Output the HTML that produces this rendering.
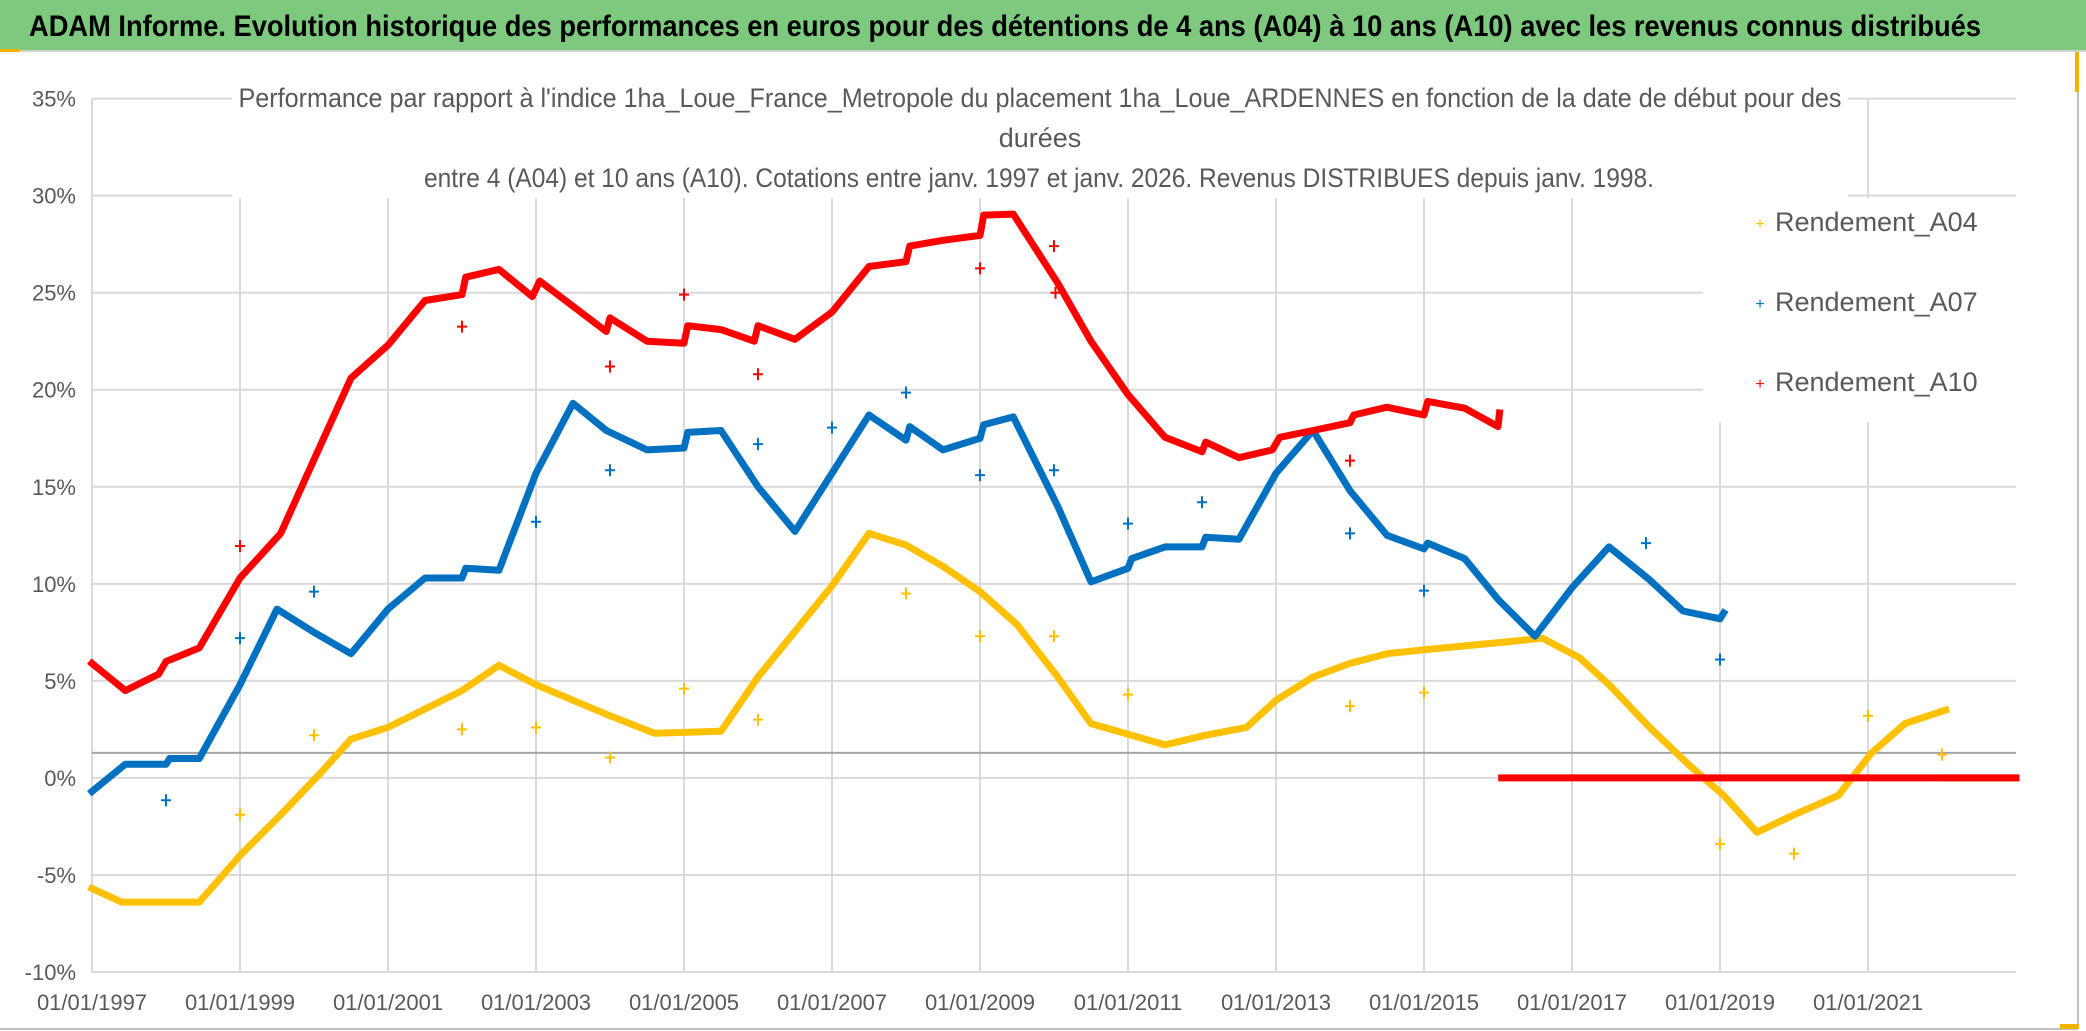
<!DOCTYPE html>
<html><head><meta charset="utf-8">
<style>
html,body{margin:0;padding:0;background:#fff;}
body{width:2086px;height:1031px;overflow:hidden;}
svg{display:block;}
</style></head>
<body>
<svg id="chart" width="2086" height="1031" xmlns="http://www.w3.org/2000/svg">
  <rect x="0" y="0" width="2086" height="1031" fill="#fff"/>
  <rect x="0" y="0" width="2086" height="50" fill="#7dc97d"/>
  <line x1="0" y1="51" x2="2086" y2="51" stroke="#d0d0d0" stroke-width="2"/>
  <rect x="0" y="49" width="20" height="3" fill="#f0b400"/>
  <text x="1005" y="36" text-anchor="middle" font-family="'Liberation Sans Narrow','Liberation Sans',sans-serif" font-weight="bold" font-size="30" fill="#000" textLength="1952" lengthAdjust="spacingAndGlyphs">ADAM Informe. Evolution historique des performances en euros pour des détentions de 4 ans (A04) à 10 ans (A10) avec les revenus connus distribués</text>
  <line x1="2078" y1="52" x2="2078" y2="1029" stroke="#bfbfbf" stroke-width="2"/>
  <line x1="0" y1="1029" x2="2078" y2="1029" stroke="#bfbfbf" stroke-width="2"/>
  <rect x="2075" y="52" width="4" height="40" fill="#f0b400"/>
  <rect x="2060" y="1024" width="19" height="5" fill="#f0b400"/>
  <g id="grid"></g>
  <g id="series"></g>
  <rect x="232" y="84" width="1616" height="114" fill="#fff"/>
  <g font-family="'Liberation Sans Narrow','Liberation Sans',sans-serif" font-size="27" fill="#595959" text-anchor="middle">
    <text x="1040" y="107" textLength="1603" lengthAdjust="spacingAndGlyphs">Performance par rapport à l'indice 1ha_Loue_France_Metropole  du placement 1ha_Loue_ARDENNES en fonction de la date de début pour des</text>
    <text x="1040" y="147">durées</text>
    <text x="1039" y="187" textLength="1230" lengthAdjust="spacingAndGlyphs">entre 4 (A04) et 10 ans (A10). Cotations entre janv. 1997 et janv. 2026. Revenus DISTRIBUES depuis janv. 1998.</text>
  </g>
  <rect x="1703" y="198" width="314" height="224" fill="#fff"/>
  <g font-family="'Liberation Sans Narrow','Liberation Sans',sans-serif" font-size="27" fill="#595959">
    <g><text x="1760" y="229" fill="#ffc000" font-size="16" text-anchor="middle">+</text><text x="1775" y="231">Rendement_A04</text></g>
    <g><text x="1760" y="309" fill="#0070c0" font-size="16" text-anchor="middle">+</text><text x="1775" y="311">Rendement_A07</text></g>
    <g><text x="1760" y="389" fill="#ff0000" font-size="16" text-anchor="middle">+</text><text x="1775" y="391">Rendement_A10</text></g>
  </g>
  <g id="axes" font-family="'Liberation Sans Narrow','Liberation Sans',sans-serif" font-size="22" fill="#595959"></g>
</svg>
<script>
const yTicks=[35,30,25,20,15,10,5,0,-5,-10];
const yTickLabels=["35%","30%","25%","20%","15%","10%","5%","0%","-5%","-10%"];
const xTicks=[1997,1999,2001,2003,2005,2007,2009,2011,2013,2015,2017,2019,2021];
const xTickLabels=["01/01/1997","01/01/1999","01/01/2001","01/01/2003","01/01/2005","01/01/2007","01/01/2009","01/01/2011","01/01/2013","01/01/2015","01/01/2017","01/01/2019","01/01/2021"];

const a04Dates=[1997.0,1997.4,1998.45,1999.0,1999.55,2000.1,2000.5,2001.0,2002.0,2002.5,2003.0,2004.0,2004.6,2005.5,2006.0,2007.0,2007.5,2008.0,2008.5,2009.0,2009.5,2010.05,2010.5,2011.05,2011.5,2012.05,2012.6,2013.0,2013.5,2014.0,2014.5,2015.0,2015.55,2016.1,2016.6,2017.1,2017.5,2018.05,2018.6,2019.05,2019.5,2020.0,2020.6,2021.05,2021.5,2022.05];
const a04Values=[-5.7,-6.4,-6.4,-4.0,-1.9,0.3,2.0,2.6,4.5,5.8,4.8,3.2,2.3,2.4,5.2,9.9,12.6,12.0,10.9,9.6,7.9,5.2,2.8,2.2,1.7,2.2,2.6,4.0,5.2,5.9,6.4,6.6,6.8,7.0,7.2,6.2,4.8,2.6,0.6,-0.9,-2.8,-1.9,-0.9,1.3,2.8,3.5];
const a04TailDates=[2022.05,2023.0];
const a04TailValues=[0,0];
const a04OutDates=[1999.0,2000.0,2002.0,2003.0,2004.0,2005.0,2006.0,2008.0,2009.0,2010.0,2011.0,2014.0,2015.0,2019.0,2020.0,2021.0,2022.0];
const a04OutValues=[-1.9,2.2,2.5,2.6,1.05,4.6,3.0,9.5,7.3,7.3,4.3,3.7,4.4,-3.4,-3.9,3.2,1.2];

const a07Dates=[1997.0,1997.45,1998.0,1998.05,1998.45,1999.0,1999.5,2000.0,2000.5,2001.0,2001.5,2002.0,2002.05,2002.5,2003.0,2003.5,2003.95,2004.5,2005.0,2005.05,2005.5,2006.0,2006.5,2007.0,2007.5,2008.0,2008.05,2008.5,2009.0,2009.05,2009.45,2010.05,2010.5,2011.0,2011.05,2011.5,2012.0,2012.05,2012.5,2013.0,2013.5,2014.0,2014.5,2015.0,2015.05,2015.55,2016.0,2016.5,2017.0,2017.5,2018.05,2018.5,2019.0,2019.05];
const a07Values=[-0.7,0.7,0.7,1.0,1.0,4.8,8.7,7.5,6.4,8.7,10.3,10.3,10.8,10.7,15.7,19.3,17.9,16.9,17.0,17.8,17.9,15.0,12.7,15.7,18.7,17.4,18.1,16.9,17.5,18.2,18.6,14.0,10.1,10.8,11.3,11.9,11.9,12.4,12.3,15.7,17.9,14.8,12.5,11.8,12.1,11.3,9.2,7.3,9.8,11.9,10.2,8.6,8.2,8.5];
const a07OutDates=[1998.0,1999.0,2000.0,2003.0,2004.0,2006.0,2007.0,2008.0,2009.0,2010.0,2011.0,2012.0,2014.0,2015.0,2018.0,2019.0];
const a07OutValues=[-1.15,7.2,9.6,13.2,15.85,17.2,18.05,19.85,15.6,15.85,13.1,14.2,12.6,9.65,12.1,6.1];

const a10Dates=[1997.0,1997.45,1997.9,1998.0,1998.45,1999.0,1999.55,2000.0,2000.5,2001.0,2001.5,2002.0,2002.05,2002.5,2002.95,2003.05,2003.95,2004.0,2004.5,2005.0,2005.05,2005.5,2005.95,2006.0,2006.5,2007.0,2007.5,2008.0,2008.05,2008.5,2009.0,2009.05,2009.45,2010.05,2010.5,2011.0,2011.5,2012.0,2012.05,2012.5,2012.95,2013.05,2013.5,2014.0,2014.05,2014.5,2015.0,2015.05,2015.55,2016.0,2016.02];
const a10Values=[5.9,4.5,5.35,6.0,6.7,10.3,12.6,16.4,20.6,22.3,24.6,24.9,25.8,26.2,24.8,25.6,23.0,23.7,22.5,22.4,23.3,23.1,22.5,23.3,22.6,24.0,26.35,26.6,27.4,27.7,27.95,29.0,29.05,25.5,22.5,19.75,17.55,16.8,17.3,16.5,16.9,17.55,17.9,18.3,18.7,19.1,18.7,19.4,19.05,18.1,18.8];
const a10TailDates=[2016.05,2023.0];
const a10TailValues=[0,0];
const a10OutDates=[1999.0,2002.0,2004.0,2005.0,2006.0,2009.0,2010.0,2010.02,2014.0];
const a10OutValues=[11.95,23.25,21.2,24.9,20.8,26.25,27.4,25.0,16.35];

const X0=92,X1=2016,Y0=98.6,Y1=972;
const xMin=1997,xMax=2023,yMin=-10,yMax=35;
function xs(v){return X0+(v-xMin)/(xMax-xMin)*(X1-X0);}
function ys(v){return Y1-(v-yMin)/(yMax-yMin)*(Y1-Y0);}
const NS="http://www.w3.org/2000/svg";
function mk(tag,attrs,parent){const e=document.createElementNS(NS,tag);for(const k in attrs)e.setAttribute(k,attrs[k]);parent.appendChild(e);return e;}

const grid=document.getElementById('grid');
yTicks.forEach((t,i)=>{
  const l=mk('line',{x1:X0,x2:X1,y1:ys(t),y2:ys(t),stroke:'#d9d9d9','stroke-width':2},grid);
  
  
});
xTicks.forEach((t,i)=>{
  const l=mk('line',{x1:xs(t),x2:xs(t),y1:Y0,y2:Y1,stroke:'#d9d9d9','stroke-width':2},grid);
  
  
});
const ref=mk('line',{x1:X0,x2:X1,y1:ys(1.29),y2:ys(1.29),stroke:'#a6a6a6','stroke-width':2},grid);



const axes=document.getElementById('axes');
yTicks.forEach((t,i)=>{
  const tx=mk('text',{x:76,y:ys(t)+8,'text-anchor':'end'},axes);
  tx.textContent=yTickLabels[i];
  
  
});
xTicks.forEach((t,i)=>{
  const tx=mk('text',{x:xs(t),y:1010,'text-anchor':'middle'},axes);
  tx.textContent=xTickLabels[i];
  
  
});

const ser=document.getElementById('series');
function line(dates,vals,color,name){
  const pts=dates.map((d,i)=>xs(d).toFixed(1)+','+ys(vals[i]).toFixed(1)).join(' ');
  const p=mk('polyline',{points:pts,fill:'none',stroke:color,'stroke-width':7,'stroke-linejoin':'round','stroke-linecap':'square'},ser);
  
  
}
function crosses(dates,vals,color,name){
  dates.forEach((d,i)=>{
    const x=xs(d),y=ys(vals[i]);
    const p=mk('path',{d:`M${x-5},${y}H${x+5}M${x},${y-6}V${y+6}`,stroke:color,'stroke-width':2,fill:'none'},ser);
    
    
  });
}
line(a04Dates,a04Values,'#ffc000','series-a04-line');
line(a04TailDates,a04TailValues,'#ffc000','series-a04-tail');
crosses(a04OutDates,a04OutValues,'#ffc000','a04-point');
line(a07Dates,a07Values,'#0070c0','series-a07-line');
crosses(a07OutDates,a07OutValues,'#0070c0','a07-point');
line(a10Dates,a10Values,'#ff0000','series-a10-line');
line(a10TailDates,a10TailValues,'#ff0000','series-a10-tail');
crosses(a10OutDates,a10OutValues,'#ff0000','a10-point');
</script>
</body></html>
